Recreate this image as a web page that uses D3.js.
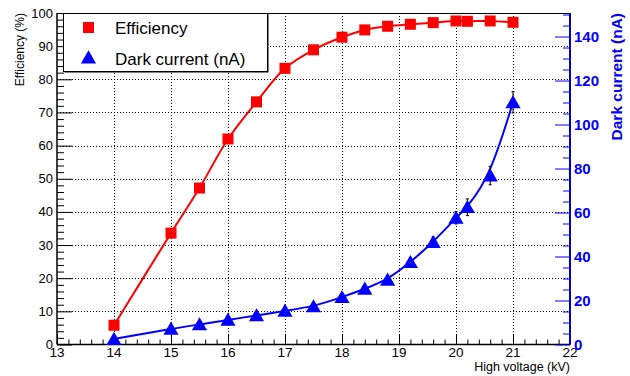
<!DOCTYPE html>
<html>
<head>
<meta charset="utf-8">
<script src="https://cdn.jsdelivr.net/npm/d3@7"></script>
<style>
  html, body { margin: 0; padding: 0; background: #fff; }
  svg { display: block; font-family: "Liberation Sans", Arial, Helvetica, sans-serif; }
</style>
</head>
<body>
<svg id="chart" width="630" height="376"></svg>
<script>
// High voltage scan points (kV)
const voltage = [14, 15, 15.5, 16, 16.5, 17, 17.5, 18, 18.4, 18.8, 19.2, 19.6, 20, 20.2, 20.6, 21];
// Detection efficiency (%)
const efficiency = [5.8, 33.6, 47.2, 62.0, 73.2, 83.3, 88.9, 92.7, 94.9, 96.0, 96.6, 97.1, 97.6, 97.5, 97.6, 97.2];
// Dark current (nA) and its uncertainty
const darkCurrent = [2.5, 7.1, 9.1, 11.2, 13.2, 15.3, 17.3, 21.5, 25.3, 29.4, 37.4, 46.5, 57.6, 62.4, 76.8, 110.1];
const darkCurrentErr = [0.3, 0.4, 0.5, 0.6, 0.7, 0.8, 0.9, 1.1, 1.3, 1.5, 1.9, 2.4, 2.8, 3.8, 4.2, 4.8];
// Axis tick labels
const xTicks = [13, 14, 15, 16, 17, 18, 19, 20, 21, 22];
const effTicks = [0, 10, 20, 30, 40, 50, 60, 70, 80, 90, 100];
const curTicks = [0, 20, 40, 60, 80, 100, 120, 140];

const svg = d3.select("#chart");
const L = 57, R = 570, T = 13, B = 344.5;
const blue = "#0000ff", red = "#ff0000";

const x = d3.scaleLinear().domain([13, 22]).range([L, R]);
const yE = d3.scaleLinear().domain([0, 100]).range([B, T]);
const yC = d3.scaleLinear().domain([0, 150.7]).range([B, T]);

// dotted grid
const grid = svg.append("g").attr("stroke", "#000").attr("stroke-width", 1)
  .attr("stroke-dasharray", "1,2").attr("shape-rendering", "crispEdges");
xTicks.slice(1, -1).forEach(v => {
  grid.append("line").attr("x1", Math.round(x(v)) + 0.5).attr("x2", Math.round(x(v)) + 0.5)
    .attr("y1", T).attr("y2", B);
});
effTicks.slice(1, -1).forEach(v => {
  grid.append("line").attr("x1", L).attr("x2", R)
    .attr("y1", Math.round(yE(v)) + 0.5).attr("y2", Math.round(yE(v)) + 0.5);
});

// frame top
svg.append("line").attr("x1", L).attr("x2", R).attr("y1", T + 0.5).attr("y2", T + 0.5)
  .attr("stroke", "#000").attr("stroke-width", 1);

// bottom axis (ticks inward)
const xAxis = svg.append("g").attr("transform", `translate(0,${B})`);
xAxis.call(d3.axisBottom(x).tickValues(d3.range(13, 22.01, 0.2)).tickSize(-5).tickFormat(""));
xAxis.call(g => g.selectAll(".tick line").filter(d => Math.abs(d - Math.round(d)) < 1e-6).attr("y2", -10));
xAxis.select(".domain").remove();
xAxis.append("line").attr("x1", L).attr("x2", R).attr("stroke", "#000").attr("stroke-width", 1.5);
xAxis.selectAll(".tick line").attr("stroke", "#000");
xTicks.forEach(v => {
  xAxis.append("text").attr("x", x(v)).attr("y", 12.5).attr("text-anchor", "middle")
    .attr("font-size", 13.5).attr("fill", "#000").text(v);
});
svg.append("text").attr("x", R).attr("y", 371).attr("text-anchor", "end")
  .attr("font-size", 12.5).attr("fill", "#000").text("High voltage (kV)");

// left axis (efficiency)
const yAxisL = svg.append("g").attr("transform", `translate(${L},0)`);
yAxisL.call(d3.axisLeft(yE).tickValues(d3.range(0, 100.1, 2)).tickSize(-7).tickFormat(""));
yAxisL.call(g => g.selectAll(".tick line").filter(d => d % 10 === 0).attr("x2", 15));
yAxisL.select(".domain").remove();
yAxisL.append("line").attr("y1", T).attr("y2", B).attr("stroke", "#000").attr("stroke-width", 1.5);
yAxisL.selectAll(".tick line").attr("stroke", "#000");
effTicks.forEach(v => {
  yAxisL.append("text").attr("x", -4).attr("y", yE(v) + 4.5).attr("text-anchor", "end")
    .attr("font-size", 13).attr("fill", "#000").text(v);
});
svg.append("text").attr("transform", `translate(24,${T}) rotate(-90)`).attr("text-anchor", "end")
  .attr("font-size", 12).attr("fill", "#000").text("Efficiency (%)");

// right axis (dark current)
const yAxisR = svg.append("g").attr("transform", `translate(${R},0)`);
yAxisR.call(d3.axisRight(yC).tickValues(d3.range(0, 150.1, 5)).tickSize(-7).tickFormat(""));
yAxisR.call(g => g.selectAll(".tick line").filter(d => d % 20 === 0).attr("x2", -15));
yAxisR.select(".domain").remove();
yAxisR.selectAll(".tick line").attr("stroke", blue);
yAxisR.append("line").attr("y1", T).attr("y2", B).attr("stroke", "#0000cc").attr("stroke-width", 2);
curTicks.forEach(v => {
  yAxisR.append("text").attr("x", 4).attr("y", yC(v) + 5.5).attr("text-anchor", "start")
    .attr("font-size", 15).attr("font-weight", "bold").attr("fill", blue).text(v);
});
svg.append("text").attr("transform", `translate(622,${T}) rotate(-90)`).attr("text-anchor", "end")
  .attr("font-size", 15.5).attr("font-weight", "bold").attr("fill", blue).text("Dark current (nA)");

// curves through the measurements
const effPts = voltage.map((v, i) => [v, efficiency[i]]);
const curPts = voltage.map((v, i) => [v, darkCurrent[i]]);
svg.append("path").datum(effPts)
  .attr("d", d3.line().x(d => x(d[0])).y(d => yE(d[1])).curve(d3.curveCatmullRom.alpha(0.5)))
  .attr("fill", "none").attr("stroke", red).attr("stroke-width", 2);
svg.append("path").datum(curPts)
  .attr("d", d3.line().x(d => x(d[0])).y(d => yC(d[1])).curve(d3.curveBasis))
  .attr("fill", "none").attr("stroke", blue).attr("stroke-width", 2);

// dark current error bars
const eb = svg.append("g").attr("stroke", "#000").attr("stroke-width", 1);
voltage.forEach((v, i) => {
  const cx = x(v), y1 = yC(darkCurrent[i] + darkCurrentErr[i]), y2 = yC(darkCurrent[i] - darkCurrentErr[i]);
  eb.append("line").attr("x1", cx).attr("x2", cx).attr("y1", y1).attr("y2", y2);
  eb.append("line").attr("x1", cx - 1.5).attr("x2", cx + 1.5).attr("y1", y1).attr("y2", y1);
  eb.append("line").attr("x1", cx - 1.5).attr("x2", cx + 1.5).attr("y1", y2).attr("y2", y2);
});

// markers
const tri = d3.symbol().type(d3.symbolTriangle).size(100);
svg.append("g").selectAll("path").data(curPts).join("path")
  .attr("d", tri).attr("transform", d => `translate(${x(d[0])},${yC(d[1]) + 1.5})`)
  .attr("fill", blue);
svg.append("g").selectAll("rect").data(effPts).join("rect")
  .attr("x", d => x(d[0]) - 5.5).attr("y", d => yE(d[1]) - 5.5)
  .attr("width", 11).attr("height", 11).attr("fill", red);

// legend
const lg = svg.append("g");
lg.append("rect").attr("x", 64.5).attr("y", 14.5).attr("width", 204).attr("height", 58)
  .attr("fill", "#000");
lg.append("rect").attr("x", 63.5).attr("y", 13.5).attr("width", 204).attr("height", 58)
  .attr("fill", "#fff").attr("stroke", "#000").attr("stroke-width", 1);
lg.append("rect").attr("x", 83).attr("y", 22).attr("width", 11).attr("height", 11).attr("fill", red);
lg.append("path").attr("d", tri).attr("transform", "translate(88.5,59)").attr("fill", blue);
lg.append("text").attr("x", 115).attr("y", 33.5).attr("font-size", 17).attr("fill", "#000").text("Efficiency");
lg.append("text").attr("x", 115).attr("y", 64.5).attr("font-size", 17).attr("fill", "#000").text("Dark current (nA)");
</script>
</body>
</html>
